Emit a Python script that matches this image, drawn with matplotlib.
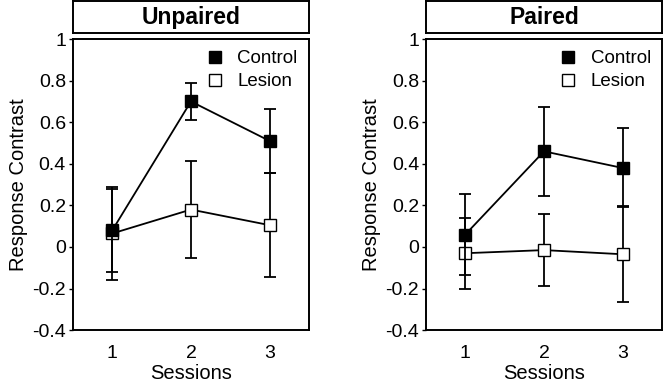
import matplotlib
matplotlib.use("Agg")
import matplotlib.pyplot as plt
from matplotlib.lines import Line2D

plt.rcParams['font.family'] = ['Liberation Sans', 'DejaVu Sans']

sessions = [1, 2, 3]
panels = ["Unpaired", "Paired"]

# Unpaired
unp_control = [0.08, 0.70, 0.51]
unp_control_err = [0.20, 0.09, 0.155]
unp_lesion = [0.065, 0.18, 0.105]
unp_lesion_err = [0.225, 0.235, 0.25]

# Paired
par_control = [0.06, 0.46, 0.38]
par_control_err = [0.195, 0.215, 0.19]
par_lesion = [-0.03, -0.015, -0.035]
par_lesion_err = [0.17, 0.175, 0.23]

yticks = [-0.4, -0.2, 0, 0.2, 0.4, 0.6, 0.8, 1]
yticklabels = ["-0.4", "-0.2", "0", "0.2", "0.4", "0.6", "0.8", "1"]

data = [
    (unp_control, unp_control_err, unp_lesion, unp_lesion_err),
    (par_control, par_control_err, par_lesion, par_lesion_err),
]

fig = plt.figure(figsize=(6.63, 3.83), dpi=100)

lefts = [0.110, 0.6425]
width = 0.356
for i, (title, (c, ce, l, le)) in enumerate(zip(panels, data)):
    ax = fig.add_axes([lefts[i], 0.138, width, 0.760])
    ax.errorbar(sessions, l, yerr=le, color="black", lw=1.3, capsize=4.5,
                capthick=1.3, marker="s", ms=9, mfc="white", mec="black",
                zorder=3)
    ax.errorbar(sessions, c, yerr=ce, color="black", lw=1.3, capsize=4.5,
                capthick=1.3, marker="s", ms=9, mfc="black", mec="black",
                zorder=4)
    ax.set_xlim(0.5, 3.5)
    ax.set_ylim(-0.4, 1)
    ax.set_yticks(yticks)
    ax.set_yticklabels(yticklabels)
    ax.set_xticks(sessions)
    ax.tick_params(axis="x", length=0, labelsize=14, pad=11)
    ax.tick_params(axis="y", direction="out", length=3, width=1,
                   labelsize=14, pad=2)
    for s in ax.spines.values():
        s.set_linewidth(1.4)
    ax.set_xlabel("Sessions", fontsize=14.5, labelpad=1)
    ax.set_ylabel("Response Contrast", fontsize=14.5, labelpad=3)

    h = [Line2D([], [], ls="none", marker="s", ms=9, mfc="black", mec="black"),
         Line2D([], [], ls="none", marker="s", ms=9, mfc="white", mec="black")]
    ax.legend(h, ["Control", "Lesion"], loc="upper right", frameon=False,
              fontsize=13.5, handletextpad=0.7, labelspacing=0.3,
              borderaxespad=0.2, handlelength=1.0)

    tax = fig.add_axes([lefts[i], 0.914, width, 0.083])
    tax.set_xticks([])
    tax.set_yticks([])
    for s in tax.spines.values():
        s.set_linewidth(1.4)
    tax.text(0.5, 0.5, title, ha="center", va="center", fontsize=16.5,
             fontweight="bold", transform=tax.transAxes)

fig.savefig("out.png", dpi=100)
